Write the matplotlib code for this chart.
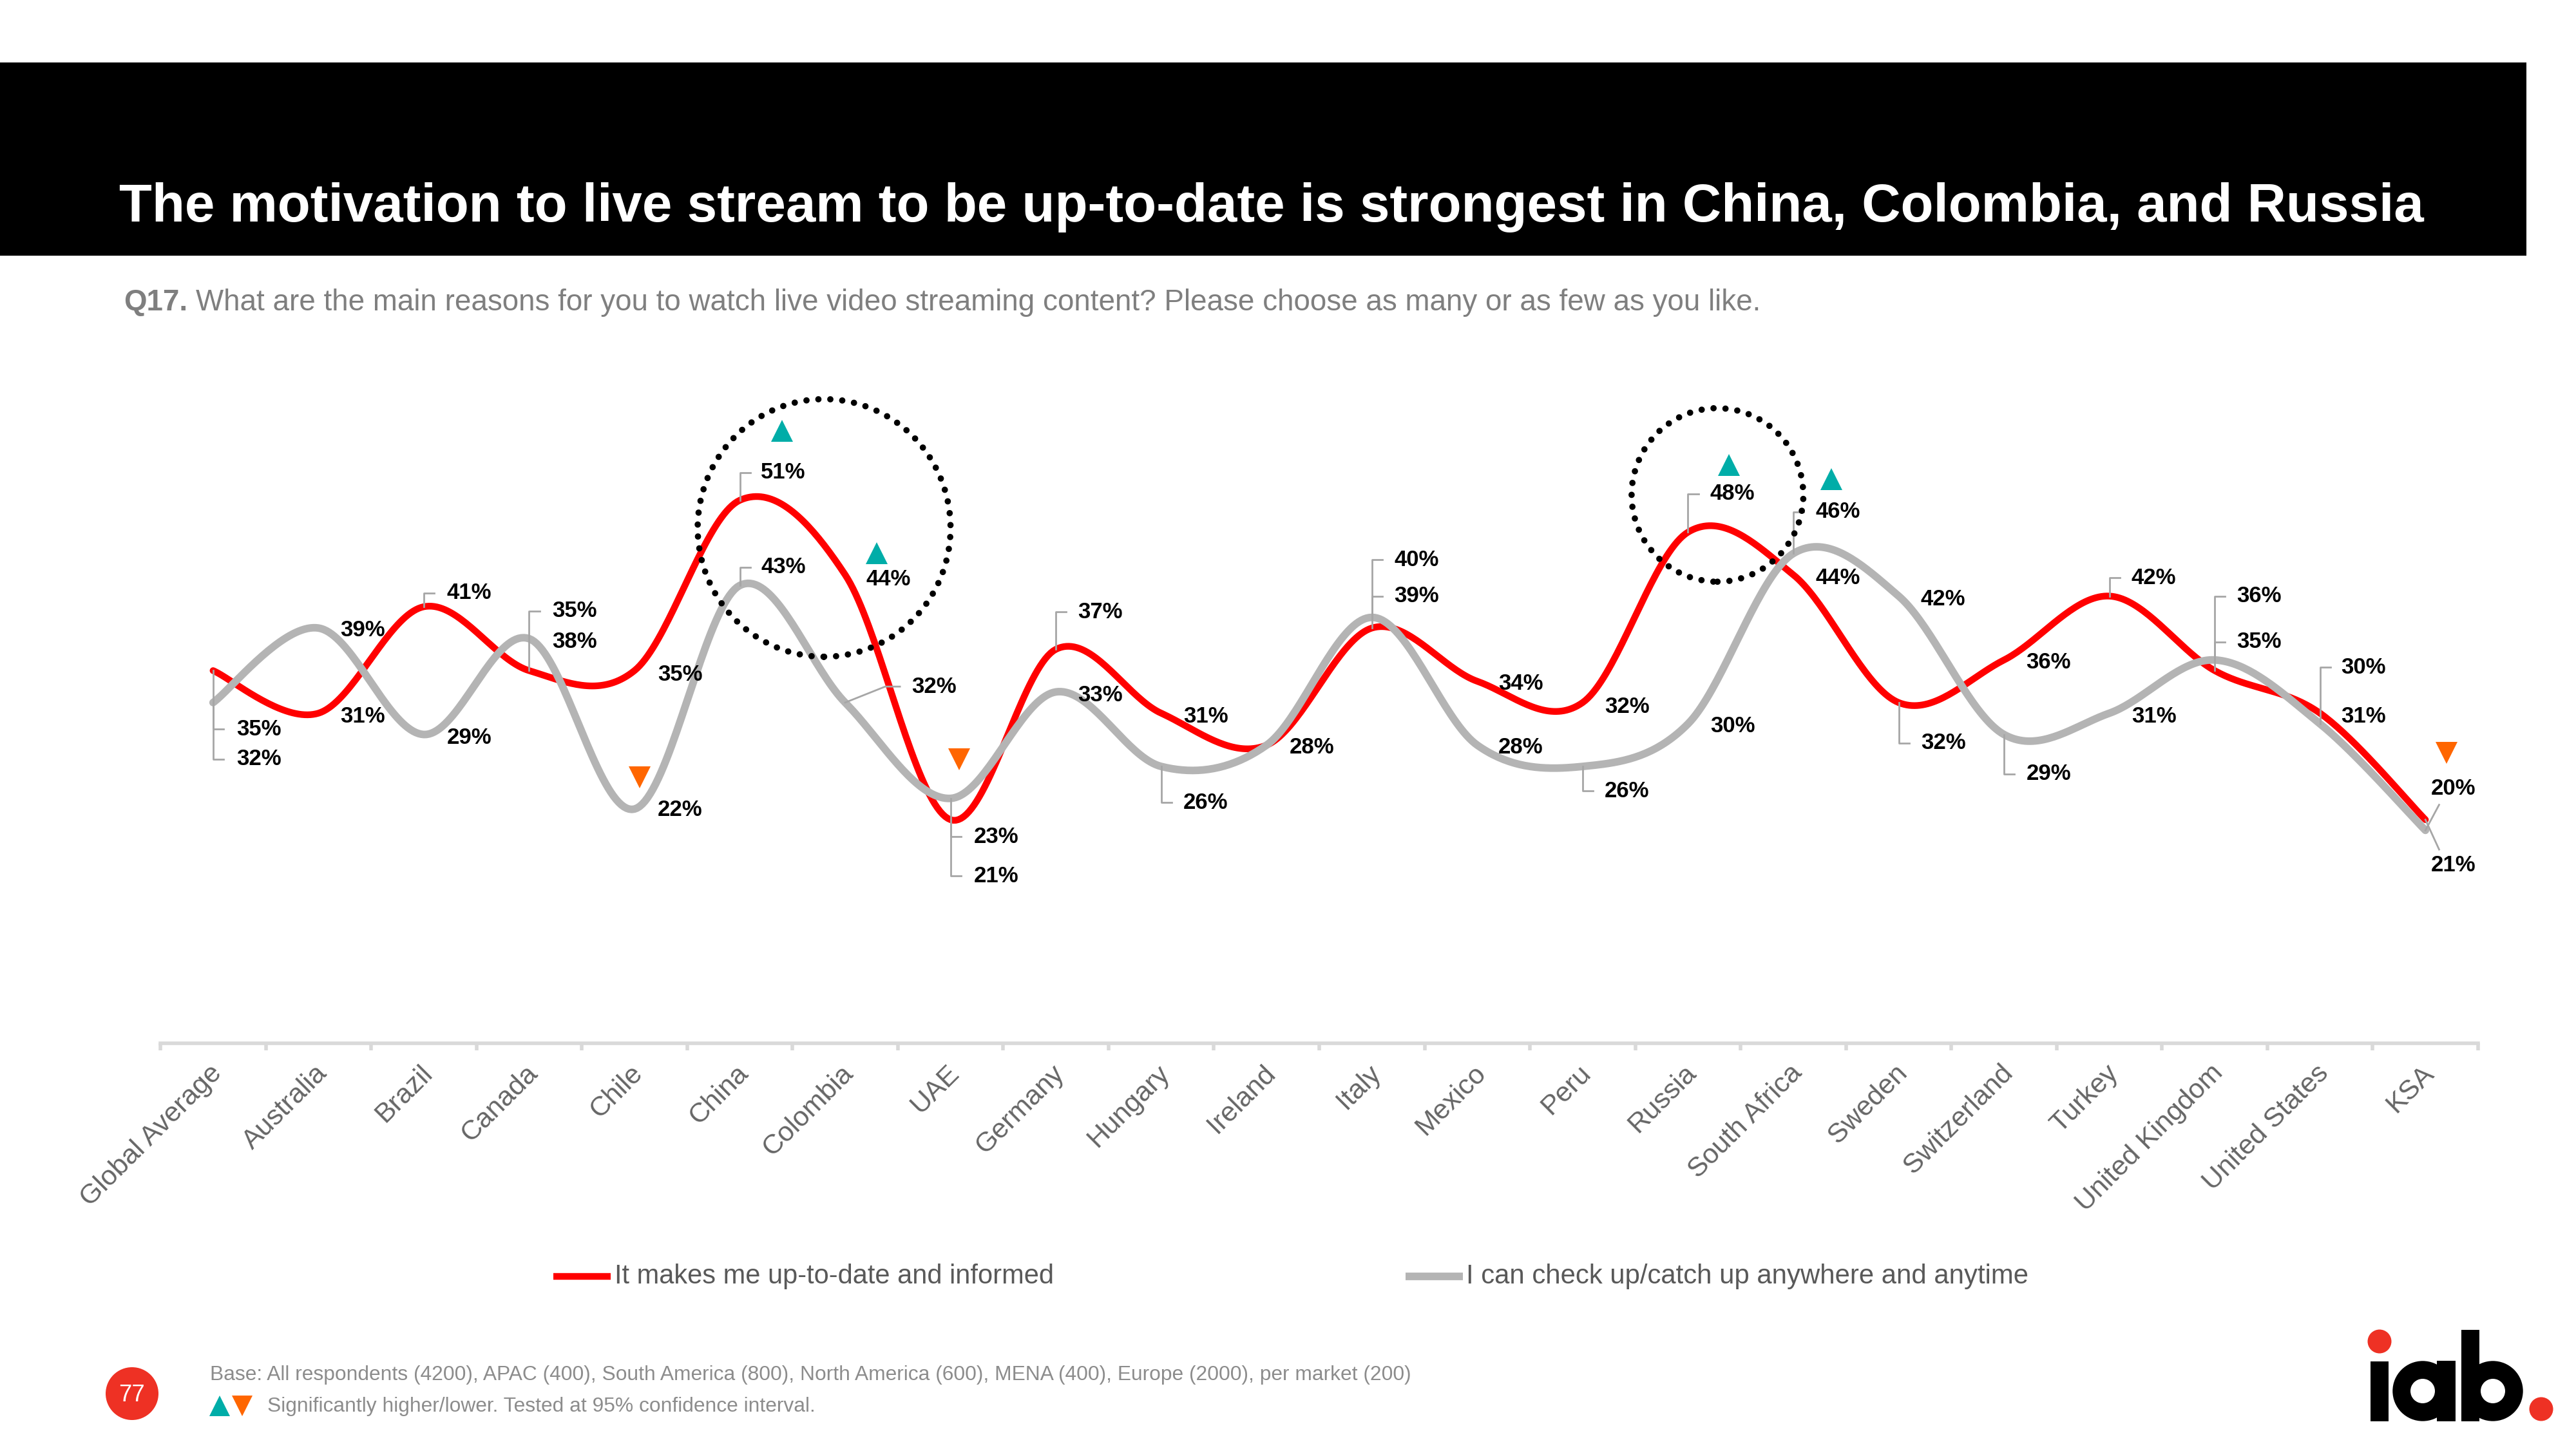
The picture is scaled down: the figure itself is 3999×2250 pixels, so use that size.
import numpy as np
import matplotlib
matplotlib.use("Agg")
import matplotlib.pyplot as plt
from matplotlib.patches import Ellipse, Rectangle, Circle, Annulus
from matplotlib.transforms import ScaledTranslation

# ---------------- data ----------------
categories = ["Global Average", "Australia", "Brazil", "Canada", "Chile", "China", "Colombia", "UAE",
              "Germany", "Hungary", "Ireland", "Italy", "Mexico", "Peru", "Russia", "South Africa",
              "Sweden", "Switzerland", "Turkey", "United Kingdom", "United States", "KSA"]
up_to_date = [35, 31, 41, 35, 35, 51, 44, 21, 37, 31, 28, 39, 34, 32, 48, 44, 32, 36, 42, 35, 31, 21]
catch_up = [32, 39, 29, 38, 22, 43, 32, 23, 33, 26, 28, 40, 28, 26, 30, 46, 42, 29, 31, 36, 30, 20]
series_names = ["It makes me up-to-date and informed", "I can check up/catch up anywhere and anytime"]

title = "The motivation to live stream to be up-to-date is strongest in China, Colombia, and Russia"
question_id = "Q17."
question = "What are the main reasons for you to watch live video streaming content? Please choose as many or as few as you like."
base_note = "Base: All respondents (4200), APAC (400), South America (800), North America (600), MENA (400), Europe (2000), per market (200)"
sig_note = "Significantly higher/lower. Tested at 95% confidence interval."
page_no = "77"

# ---------------- layout (label placement, not data) ----------------
# (category index, series, label y level, leader style, text x offset)
label_layout = [
    (0, 'r', 29.5, 'v', 0.22), (0, 'g', 26.7, 'v', 0.22),
    (1, 'g', 38.8, None, 0.21), (1, 'r', 30.7, None, 0.21),
    (2, 'r', 42.3, 'v', 0.22), (2, 'g', 28.7, None, 0.22),
    (3, 'r', 40.6, 'v', 0.22), (3, 'g', 37.7, None, 0.22),
    (4, 'r', 34.6, None, 0.22), (4, 'g', 21.9, None, 0.22),
    (5, 'r', 53.6, 'v', 0.2), (5, 'g', 44.7, 'v', 0.2),
    (6, 'r', 43.6, None, 0.2), (6, 'g', 33.5, 'd', 0.63),
    (7, 'g', 19.4, 'v', 0.22), (7, 'r', 15.7, 'v', 0.22),
    (8, 'r', 40.5, 'v', 0.21), (8, 'g', 32.7, None, 0.21),
    (9, 'r', 30.7, None, 0.21), (9, 'g', 22.6, 'v', 0.21),
    (10, 'r', 27.8, None, 0.22),
    (11, 'g', 45.4, 'v', 0.21), (11, 'r', 42.0, 'v', 0.21),
    (12, 'r', 33.8, None, 0.2), (12, 'g', 27.8, None, 0.2),
    (13, 'r', 31.6, None, 0.21), (13, 'g', 23.7, 'v', 0.21),
    (14, 'r', 51.6, 'v', 0.21), (14, 'g', 29.8, None, 0.21),
    (15, 'g', 49.9, 'v', 0.21), (15, 'r', 43.7, None, 0.21),
    (16, 'g', 41.7, None, 0.21), (16, 'r', 28.2, 'v', 0.21),
    (17, 'r', 35.8, None, 0.21), (17, 'g', 25.3, 'v', 0.21),
    (18, 'r', 43.7, 'v', 0.21), (18, 'g', 30.7, None, 0.21),
    (19, 'g', 42.0, 'v', 0.21), (19, 'r', 37.7, 'v', 0.21),
    (20, 'g', 35.3, 'v', 0.2), (20, 'r', 30.7, None, 0.2),
    (21, 'g', 23.9, 'k', 0.05), (21, 'r', 16.7, 'k', 0.05),
]
# significance markers: (category index, marker, y level, x offset)
sig_markers = [(5, '^', 57.5, 0.40), (6, '^', 46.0, 0.30), (14, '^', 54.3, 0.39), (15, '^', 53.0, 0.36),
               (4, 'v', 25.0, 0.05), (7, 'v', 26.7, 0.08), (21, 'v', 27.3, 0.20)]

RED = "#FF0000"
GRAY = "#B4B4B4"
TEAL = "#00ADA8"
ORANGE = "#FF6600"
BRAND_RED = "#EE3124"

W, H, DPI = 3999, 2250, 250
fig = plt.figure(figsize=(W / DPI, H / DPI), dpi=DPI)
fig.patch.set_facecolor("white")

# overlay axes in pixel coords (origin top-left)
ov = fig.add_axes([0, 0, 1, 1], zorder=0)
ov.set_xlim(0, W)
ov.set_ylim(H, 0)
ov.axis("off")
ov.patch.set_alpha(0)

renderer = fig.canvas.get_renderer()


def width_of(t):
    return t.get_window_extent(renderer).width


def fit(t, target):
    for _ in range(3):
        t.set_fontsize(t.get_fontsize() * target / width_of(t))


# title band
ov.add_patch(Rectangle((0, 97), 3922, 300, facecolor="black", edgecolor="none"))
tt = ov.text(185, 344, title, color="white", fontsize=22, fontweight="bold",
             family="Liberation Sans", va="baseline", ha="left")
fit(tt, 3578)

# subtitle
t1 = ov.text(192, 482, question_id, color="#7f7f7f", fontsize=13, fontweight="bold",
             family="Liberation Sans", va="baseline", ha="left")
t2 = ov.text(192, 482, question, color="#7f7f7f", fontsize=13,
             family="Liberation Sans", va="baseline", ha="left")
f = 13.0
for _ in range(4):
    t1.set_fontsize(f)
    t2.set_fontsize(f)
    gap = 0.28 * f * DPI / 72
    tot = width_of(t1) + gap + width_of(t2)
    f *= 2546 / tot
t1.set_fontsize(f)
t2.set_fontsize(f)
t2.set_x(192 + width_of(t1) + 0.28 * f * DPI / 72)

# ---------------- main chart ----------------
ax = fig.add_axes([249 / W, (H - 1620) / H, 3598 / W, (1620 - 628) / H], zorder=2)
ax.patch.set_alpha(0)
n = len(categories)
ax.set_xlim(-0.5, n - 0.5)
ax.set_ylim(0, 60)
for s in ["top", "right", "left"]:
    ax.spines[s].set_visible(False)
ax.spines["bottom"].set_color("#D9D9D9")
ax.spines["bottom"].set_linewidth(1.6)
ax.set_yticks([])
ax.set_xticks(range(n))
ax.set_xticklabels(categories, rotation=45, ha="right", va="top", rotation_mode="anchor",
                   fontsize=12.3, color="#666666", family="Liberation Sans")
ax.set_xticks(np.arange(-0.5, n, 1.0), minor=True)
ax.tick_params(axis="x", which="major", length=0, pad=7.5)
ax.tick_params(axis="x", which="minor", length=3.2, width=1.6, color="#D9D9D9")
for lab in ax.get_xticklabels():
    lab.set_transform(lab.get_transform() + ScaledTranslation(-2 / 72, 0, fig.dpi_scale_trans))


def smooth(xv, yv, k=40):
    P = np.column_stack([np.asarray(xv, float), np.asarray(yv, float)])
    E = np.vstack([P[0], P, P[-1]])
    out = []
    for i in range(len(P) - 1):
        p0, p1, p2, p3 = E[i], E[i + 1], E[i + 2], E[i + 3]
        c1 = p1 + (p2 - p0) / 6.0
        c2 = p2 - (p3 - p1) / 6.0
        t = np.linspace(0, 1, k, endpoint=(i == len(P) - 2))[:, None]
        out.append((1 - t) ** 3 * p1 + 3 * (1 - t) ** 2 * t * c1 + 3 * (1 - t) * t ** 2 * c2 + t ** 3 * p2)
    return np.vstack(out)


xs = np.arange(n)
sr = smooth(xs, up_to_date)
sg = smooth(xs, catch_up)
ax.plot(sr[:, 0], sr[:, 1], color=RED, lw=3.0, solid_capstyle="round", zorder=3)
ax.plot(sg[:, 0], sg[:, 1], color=GRAY, lw=3.4, solid_capstyle="round", zorder=4)

vals = {'r': up_to_date, 'g': catch_up}
LC = "#A6A6A6"
for (ci, s, ylab, leader, dx) in label_layout:
    v = vals[s][ci]
    if leader == 'v':
        ax.plot([ci, ci, ci + 0.1], [v, ylab, ylab], color=LC, lw=0.8, zorder=5)
    elif leader == 'd':
        ax.plot([ci, ci + 0.38, ci + 0.52], [v, ylab, ylab], color=LC, lw=0.8, zorder=5)
    elif leader == 'k':
        sign = 1 if ylab > v else -1
        ax.plot([ci, ci + 0.13], [v, ylab - 1.5 * sign], color=LC, lw=0.8, zorder=5)
    ax.text(ci + dx, ylab, f"{v}%", fontsize=10, fontweight="bold", color="black",
            family="Liberation Sans", ha="left", va="center", zorder=6)

for (ci, mk, yl, dx) in sig_markers:
    ax.plot(ci + dx, yl, marker=mk, markersize=9.8, color=TEAL if mk == '^' else ORANGE,
            markeredgewidth=0, linestyle="none", zorder=6, clip_on=False)

for (cx, cy, w, h) in [(5.8, 48.4, 2.4, 24.2), (14.28, 51.5, 1.63, 16.3)]:
    e = Ellipse((cx, cy), w, h, fill=False, edgecolor="black", lw=2.8,
                linestyle=(0, (0.01, 1.9)), zorder=5, clip_on=False)
    e.set_capstyle("round")
    ax.add_patch(e)

# ---------------- legend ----------------
ov.plot([859, 948], [1982, 1982], color=RED, lw=3.0, solid_capstyle="butt")
lt1 = ov.text(954, 1982, series_names[0], color="#595959", fontsize=12, family="Liberation Sans",
              ha="left", va="center")
fit(lt1, 682)
ov.plot([2182, 2271], [1982, 1982], color=GRAY, lw=3.4, solid_capstyle="butt")
lt2 = ov.text(2276, 1982, series_names[1], color="#595959", fontsize=12, family="Liberation Sans",
              ha="left", va="center")
fit(lt2, 872)

# ---------------- footer ----------------
ov.add_patch(Circle((205, 2164), 41, facecolor=BRAND_RED, edgecolor="none"))
ov.text(205, 2166, page_no, color="white", fontsize=10.5, family="Liberation Sans",
        ha="center", va="center")
fb = ov.text(326, 2143, base_note, color="#8c8c8c", fontsize=9, family="Liberation Sans",
             ha="left", va="baseline")
fit(fb, 1872)
fs = ov.text(415, 2192, sig_note, color="#8c8c8c", fontsize=9, family="Liberation Sans",
             ha="left", va="baseline")
fit(fs, 850)
ov.plot(341, 2183, marker="^", markersize=9, color=TEAL, markeredgewidth=0)
ov.plot(376, 2183, marker="v", markersize=9, color=ORANGE, markeredgewidth=0)

# ---------------- iab logo ----------------
ov.add_patch(Rectangle((3680, 2114), 28, 93, facecolor="black", edgecolor="none"))
ov.add_patch(Circle((3694, 2083), 18.5, facecolor=BRAND_RED, edgecolor="none"))
ov.add_patch(Annulus((3761, 2160), 46.7, 27.7, facecolor="black", edgecolor="none"))
ov.add_patch(Rectangle((3783, 2113), 29, 94, facecolor="black", edgecolor="none"))
ov.add_patch(Annulus((3870, 2160), 46.7, 27.7, facecolor="black", edgecolor="none"))
ov.add_patch(Rectangle((3821, 2065), 28, 142, facecolor="black", edgecolor="none"))
ov.add_patch(Circle((3945, 2188), 18.5, facecolor=BRAND_RED, edgecolor="none"))

fig.savefig("out.png", dpi=DPI, facecolor="white")
